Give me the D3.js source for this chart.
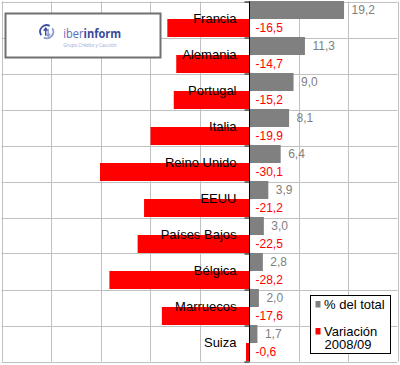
<!DOCTYPE html>
<html><head><meta charset="utf-8">
<script src="https://cdn.jsdelivr.net/npm/d3@7/dist/d3.min.js"></script>
<style>
html,body{margin:0;padding:0;background:#fff;}
svg{display:block;font-family:"Liberation Sans",Arial,sans-serif;}
</style></head>
<body>
<svg id="c" width="400" height="365"></svg>
<script>
const categories = ["Francia","Alemania","Portugal","Italia","Reino Unido","EEUU","Países Bajos","Bélgica","Marruecos","Suiza"];
const shareTotal = [19.2,11.3,9.0,8.1,6.4,3.9,3.0,2.8,2.0,1.7];
const variation = [-16.5,-14.7,-15.2,-19.9,-30.1,-21.2,-22.5,-28.2,-17.6,-0.6];
const xTicks = [-50,-40,-30,-20,-10,0,10,20,30];
const seriesNames = ["% del total","Variación","2008/09"];

const svg = d3.select("#c");
const x = d3.scaleLinear().domain([-50,30]).range([1.5,397.5]);
const y = d3.scaleBand().domain(categories).range([1.5,361.5]).padding(0);
const bw = y.bandwidth();
const fmt = v => d3.format(".1f")(v).replace("\u2212","-").replace(".",",");

// grid
const grid = svg.append("g").attr("stroke","#c0c0c0").attr("stroke-width",1);
grid.selectAll("line.v").data(xTicks).join("line")
  .attr("x1",d=>Math.round(x(d))+0.5).attr("x2",d=>Math.round(x(d))+0.5)
  .attr("y1",1.5).attr("y2",361.5);
const bounds = d3.range(categories.length+1);
const yb = d3.scaleLinear().domain([0,categories.length]).range([1.5,361.5]);
grid.selectAll("line.h").data(bounds).join("line")
  .attr("x1",1.5).attr("x2",397.5)
  .attr("y1",d=>Math.round(yb(d))+0.5).attr("y2",d=>Math.round(yb(d))+0.5);

// bars
svg.append("g").selectAll("rect").data(categories).join("rect")
  .attr("x",(d,i)=>x(0)).attr("y",d=>y(d)-0.5)
  .attr("width",(d,i)=>x(shareTotal[i])-x(0)).attr("height",bw/2)
  .attr("fill","#808080");
svg.append("g").selectAll("rect").data(categories).join("rect")
  .attr("x",(d,i)=>x(variation[i])).attr("y",d=>y(d)+bw/2-0.5)
  .attr("width",(d,i)=>x(0)-x(variation[i])).attr("height",bw/2)
  .attr("fill","#ff0000");

// axis
const ax = svg.append("g").attr("transform",`translate(${Math.round(x(0))+0.5},0)`)
  .call(d3.axisLeft(yb).tickValues(bounds).tickSize(5).tickSizeOuter(0).tickFormat(""));
ax.selectAll("path,line").attr("stroke","#000");
ax.select(".domain").attr("d",`M0,${yb(0)}V${yb(categories.length)}`);

// category labels
svg.append("g").selectAll("text").data(categories).join("text")
  .attr("x",x(0)-12.5).attr("y",d=>y(d)+bw/2-1.5)
  .attr("text-anchor","end").attr("dominant-baseline","central")
  .attr("font-size",13).attr("fill","#000").text(d=>d);

// value labels
svg.append("g").selectAll("text").data(categories).join("text")
  .attr("x",(d,i)=>x(shareTotal[i])+7.5).attr("y",d=>y(d)+bw/4-1)
  .attr("dominant-baseline","central")
  .attr("font-size",12).attr("fill","#808080").text((d,i)=>fmt(shareTotal[i]));
svg.append("g").selectAll("text").data(categories).join("text")
  .attr("x",x(0)+6.5).attr("y",d=>y(d)+3*bw/4-1)
  .attr("dominant-baseline","central")
  .attr("font-size",12).attr("fill","#ff0000").text((d,i)=>fmt(variation[i]));

// legend
const lg = svg.append("g");
lg.append("rect").attr("x",310.5).attr("y",295.5).attr("width",80).attr("height",58)
  .attr("fill","#fff").attr("stroke","#000").attr("stroke-width",1);
lg.append("rect").attr("x",315.5).attr("y",301).attr("width",5).attr("height",6.5).attr("fill","#808080");
lg.append("rect").attr("x",315.5).attr("y",328).attr("width",5).attr("height",6.5).attr("fill","#ff0000");
lg.append("text").attr("x",324).attr("y",309).attr("font-size",13).text(seriesNames[0]);
lg.append("text").attr("x",324).attr("y",335.5).attr("font-size",13).text(seriesNames[1]);
lg.append("text").attr("x",324.5).attr("y",349.3).attr("font-size",13).text(seriesNames[2]);

// logo
const lo = svg.append("g");
lo.append("rect").attr("x",5.5).attr("y",13.5).attr("width",155).attr("height",44)
  .attr("fill","#fff").attr("stroke","#707070").attr("stroke-width",2);
const ic = lo.append("g").attr("transform","translate(46.7,31.7)").attr("fill","none").attr("stroke","#3d4f9f").attr("stroke-width",1.8);
ic.append("path").attr("d","M-5.5,3.5 A6.5,6.5 0 0 1 3,-5.8");
ic.append("path").attr("d","M5.5,-3.5 A6.5,6.5 0 0 1 -3,5.8").attr("stroke","#8d9bd0");
ic.append("path").attr("d","M-1,4 V-3 M-3,-1 L-1,-3.5 L1,-1").attr("stroke-width",1.4);
ic.append("path").attr("d","M1.5,-3 V4 M-0.5,2 L1.5,4.5 L3.5,2").attr("stroke-width",1.4).attr("stroke","#8d9bd0");
const lt = lo.append("text").attr("transform","translate(63.3,38.3) scale(0.85,1)")
  .attr("font-size",13).attr("font-family","Open Sans, sans-serif");
lt.append("tspan").attr("fill","#5b6bb5").text("iber");
lt.append("tspan").attr("fill","#3a4a99").attr("font-weight","bold").text("inform");
lo.append("text").attr("transform","translate(63.3,47.3) scale(0.85,1)").attr("font-size",5.5).attr("fill","#9aa7d3")
  .attr("font-family","Open Sans, sans-serif").text("Grupo Crédito y Caución");
</script>
</body></html>
